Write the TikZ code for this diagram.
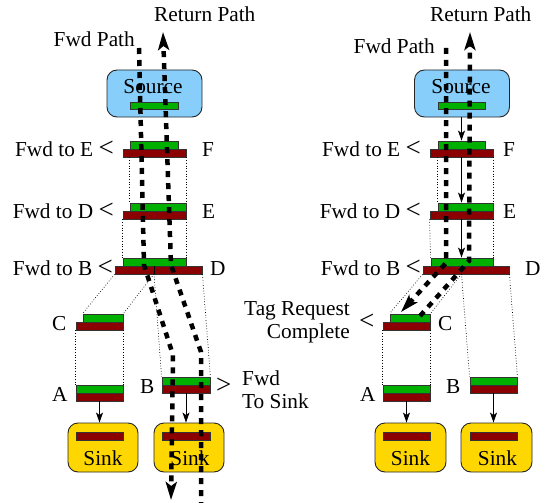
\documentclass[tikz,border=0pt]{standalone}
\usepackage{fontspec}
\setmainfont{Liberation Serif}
\usetikzlibrary{arrows.meta}
\definecolor{barG}{RGB}{0,176,0}
\definecolor{barR}{RGB}{139,0,0}
\definecolor{srcBlue}{RGB}{135,206,250}
\definecolor{sinkGold}{RGB}{255,215,0}
\newcommand\lbfont{\fontsize{21.3}{23}\selectfont}
\newcommand\ltsym{{\fontsize{27}{27}\selectfont <}}
\newcommand\gtsym{{\fontsize{27}{27}\selectfont >}}
\begin{document}
\begin{tikzpicture}[x=1pt,y=-1pt,
  barbase/.style={rectangle, draw=black!80, line width=0.9pt, inner sep=0, minimum height=8pt},
  gbar/.style={barbase, fill=barG},
  rbar/.style={barbase, fill=barR},
  srcbox/.style={rectangle, rounded corners=10pt, draw=black!85, line width=0.9pt, fill=srcBlue, inner sep=0, minimum width=95pt, minimum height=47pt},
  sinkbox/.style={rectangle, rounded corners=10pt, draw=black!85, line width=0.9pt, fill=sinkGold, inner sep=0, minimum width=70pt, minimum height=49pt},
  lbl/.style={inner sep=0, font=\lbfont},
  tarrow/.style={-{Stealth[length=10pt,width=7pt,inset=2.5pt]}, line width=0.8pt},
  guide/.style={dotted, line width=0.7pt},
  pathline/.style={line width=4.5pt, dash pattern=on 6pt off 6pt},
  thickhead/.style={-{Stealth[length=18pt,width=11pt,inset=4pt]}}
]
\useasboundingbox (0,0) rectangle (546,503);

% ================= LEFT =================
\node[srcbox] (LSrc) at (154.5,93.5) {};
\node[lbl, anchor=base] (LSrcTxt) at (153,93) {Source};
\node[gbar, minimum width=48pt, minimum height=7pt] (LSg) at (154,105.5) {};

\node[gbar, minimum width=48pt] (LFg) at (154,145) {};
\node[rbar, minimum width=63pt] (LFr) at (154.5,153) {};
\node[gbar, minimum width=56pt] (LEg) at (158,207) {};
\node[rbar, minimum width=63pt] (LEr) at (154.5,215) {};
\node[gbar, minimum width=63pt] (LDg) at (154.5,262) {};
\node[rbar, minimum width=87pt] (LDr) at (158.5,270) {};
\node[gbar, minimum width=40pt] (LCg) at (103,318) {};
\node[rbar, minimum width=47pt] (LCr) at (99.5,326) {};
\node[gbar, minimum width=47pt] (LAg) at (99.5,389) {};
\node[rbar, minimum width=47pt] (LAr) at (99.5,397) {};
\node[gbar, minimum width=48pt] (LBg) at (186,381) {};
\node[rbar, minimum width=48pt] (LBr) at (186,389) {};

\node[sinkbox] (LSinkA) at (103,447.5) {};
\node[rbar, minimum width=47pt] (LSinkAr) at (99.5,436) {};
\node[lbl, anchor=base] (LSinkAt) at (103,465) {Sink};
\node[sinkbox] (LSinkB) at (189,447.5) {};
\node[rbar, minimum width=48pt] (LSinkBr) at (186,436) {};
\node[lbl, anchor=base] (LSinkBt) at (190,465) {Sink};

\coordinate (Lsplit) at (154,274);
\draw[line width=0.9pt] (Lsplit) -- (Lsplit |- LDr.north);

\draw[guide] (LEg.north west |- LFr.south) -- (LEg.north west);
\draw[guide] (LEg.north east |- LFr.south) -- (LEg.north east);
\draw[guide] (LEr.south west) -- (LDg.north west);
\draw[guide] (LEr.south east) -- (LDg.north east);
\draw[guide] (LDr.south west) -- (LCg.north west);
\draw[guide] (Lsplit) -- (LCg.north east);
\draw[guide] (Lsplit) -- (LBg.north west);
\draw[guide] (LDr.south east) -- (LBg.north east);
\draw[guide] (LCr.south west) -- (LAg.north west);
\draw[guide] (LCr.south east) -- (LAg.north east);

\draw[tarrow] (LAr.south) -- (LAr.south |- LSinkA.north);
\draw[tarrow] (LBr.south) -- (LBr.south |- LSinkB.north);

\node[lbl, anchor=base east] (LlF) at (114,156) {Fwd to E \ltsym};
\node[lbl, anchor=base east] (LlE) at (114,218) {Fwd to D \ltsym};
\node[lbl, anchor=base east] (LlD) at (113,275) {Fwd to B \ltsym};
\node[lbl, anchor=base west] (LnF) at (202,156) {F};
\node[lbl, anchor=base west] (LnE) at (202,218) {E};
\node[lbl, anchor=base west] (LnD) at (210,275) {D};
\node[lbl, anchor=base west] (LnC) at (52,330) {C};
\node[lbl, anchor=base west] (LnA) at (52,401) {A};
\node[lbl, anchor=base west] (LnB) at (140,393) {B};
\node[lbl, anchor=base west] (LgtB) at (216,393) {\gtsym};
\node[lbl, anchor=base west] (LfwdA) at (242,385) {Fwd};
\node[lbl, anchor=base west] (LfwdB) at (242,408) {To Sink};
\node[lbl, anchor=base east] (LFwdPath) at (135,47) {Fwd Path};
\node[lbl, anchor=base west] (LRetPath) at (154,22) {Return Path};

\coordinate (LfA) at (139,48);
\coordinate (LfB) at (144,265);
\coordinate (LfC) at (173,355);
\coordinate (LfD) at (171,500);
\draw[pathline, thickhead] (LfA) -- (LfB) -- (LfC) -- (LfD);
\coordinate (LrA) at (201,508);
\coordinate (LrB) at (201,352);
\coordinate (LrC) at (171,265);
\coordinate (LrD) at (163,32);
\draw[pathline, thickhead] (LrA) -- (LrB) -- (LrC) -- (LrD);

% ================= RIGHT =================
\node[srcbox] (RSrc) at (462,93.5) {};
\node[lbl, anchor=base] (RSrcTxt) at (461,93) {Source};
\node[gbar, minimum width=47pt, minimum height=7pt] (RSg) at (461.5,105.5) {};

\node[gbar, minimum width=47pt] (RFg) at (461.5,145) {};
\node[rbar, minimum width=63pt] (RFr) at (461.5,153) {};
\node[gbar, minimum width=55pt] (REg) at (465.5,207) {};
\node[rbar, minimum width=63pt] (REr) at (461.5,215) {};
\node[gbar, minimum width=62pt] (RDg) at (462,262) {};
\node[rbar, minimum width=86pt] (RDr) at (466,270) {};
\node[gbar, minimum width=40pt] (RCg) at (410,318) {};
\node[rbar, minimum width=47pt] (RCr) at (406.5,326) {};
\node[gbar, minimum width=47pt] (RAg) at (406.5,389) {};
\node[rbar, minimum width=47pt] (RAr) at (406.5,397) {};
\node[gbar, minimum width=47pt] (RBg) at (493.5,381) {};
\node[rbar, minimum width=47pt] (RBr) at (493.5,389) {};

\node[sinkbox, minimum width=71pt] (RSinkA) at (410.5,447.5) {};
\node[rbar, minimum width=47pt] (RSinkAr) at (406.5,436) {};
\node[lbl, anchor=base] (RSinkAt) at (410.5,465) {Sink};
\node[sinkbox, minimum width=71pt] (RSinkB) at (496.5,447.5) {};
\node[rbar, minimum width=47pt] (RSinkBr) at (493.5,436) {};
\node[lbl, anchor=base] (RSinkBt) at (497.5,465) {Sink};

\coordinate (Rsplit) at (461.5,274);

\draw[guide] (REg.north west |- RFr.south) -- (REg.north west);
\draw[guide] (REg.north east |- RFr.south) -- (REg.north east);
\draw[guide] (REr.south west) -- (RDg.north west);
\draw[guide] (REr.south east) -- (RDg.north east);
\draw[guide] (RDr.south west) -- (RCg.north west);
\draw[guide] (Rsplit) -- (RCg.north east);
\draw[guide] (Rsplit) -- (RBg.north west);
\draw[guide] (RDr.south east) -- (RBg.north east);
\draw[guide] (RCr.south west) -- (RAg.north west);
\draw[guide] (RCr.south east) -- (RAg.north east);

\draw[tarrow] (RFg.north |- RSrc.south) -- (RFg.north);
\draw[tarrow] (RFr.south) -- (RFr.south |- REg.north);
\draw[tarrow] (REr.south) -- (REr.south |- RDg.north);
\draw[tarrow] (RAr.south) -- (RAr.south |- RSinkA.north);
\draw[tarrow] (RBr.south) -- (RBr.south |- RSinkB.north);

\node[lbl, anchor=base east] (RlF) at (421,156) {Fwd to E \ltsym};
\node[lbl, anchor=base east] (RlE) at (421,218) {Fwd to D \ltsym};
\node[lbl, anchor=base east] (RlD) at (421,275) {Fwd to B \ltsym};
\node[lbl, anchor=base west] (RnF) at (503,156) {F};
\node[lbl, anchor=base west] (RnE) at (503,218) {E};
\node[lbl, anchor=base west] (RnD) at (525,275) {D};
\node[lbl, anchor=base west] (RnC) at (438,330) {C};
\node[lbl, anchor=base west] (RnA) at (360,401) {A};
\node[lbl, anchor=base west] (RnB) at (446,393) {B};
\node[lbl, anchor=base east] (RtagA) at (350,315) {Tag Request};
\node[lbl, anchor=base east] (RtagB) at (350,338) {Complete};
\node[lbl, anchor=base west] (RltC) at (359,329) {\ltsym};
\node[lbl, anchor=base east] (RFwdPath) at (435,53) {Fwd Path};
\node[lbl, anchor=base west] (RRetPath) at (430,22) {Return Path};

\coordinate (RfA) at (446,48);
\coordinate (RfB) at (446,263);
\coordinate (RfC) at (401,312);
\draw[pathline, thickhead] (RfA) -- (RfB) -- (RfC);
\coordinate (RrA) at (420,316);
\coordinate (RrB) at (469,261);
\coordinate (RrC) at (470,32);
\draw[pathline, thickhead] (RrA) -- (RrB) -- (RrC);
\end{tikzpicture}
\end{document}
